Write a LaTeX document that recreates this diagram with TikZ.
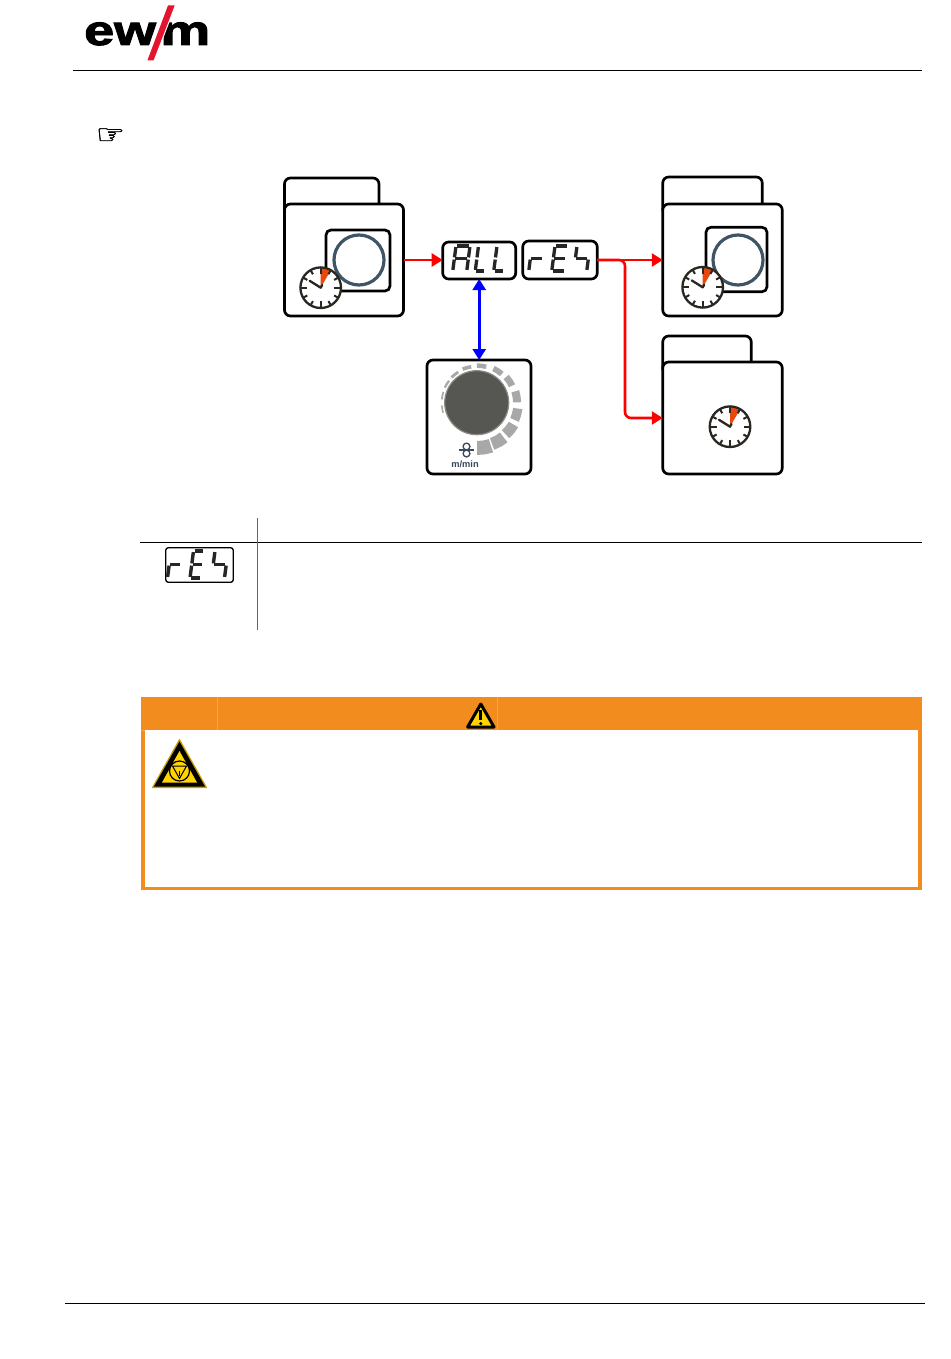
\documentclass[tikz,border=0pt]{standalone}
\usepackage{fontspec}
\setmainfont{Liberation Sans}
\newfontfamily\symfont[FakeBold=1.2]{DejaVu Sans}
\newfontfamily\logofont[FakeBold=2.2]{Liberation Sans Bold}
\usetikzlibrary{arrows.meta}
\definecolor{ringcol}{HTML}{3F5565}
\definecolor{clockor}{HTML}{E8480C}
\definecolor{clockbk}{HTML}{2A2622}
\definecolor{warnor}{HTML}{F28C1E}
\definecolor{warnseam}{HTML}{F5A552}
\definecolor{warnyel}{HTML}{FFD400}
\definecolor{warngold}{HTML}{C9A000}
\definecolor{logored}{HTML}{E3142D}
\definecolor{dialgray}{HTML}{A8A8A8}
\definecolor{slatecol}{HTML}{3A4A5A}
\definecolor{knobedge}{HTML}{8C8C84}
\pgfdeclareradialshading{knobshade}{\pgfpoint{-10bp}{-14bp}}{color(0bp)=(rgb:red,240;green,240;blue,234); color(25bp)=(rgb:red,222;green,222;blue,214); color(50bp)=(rgb:red,208;green,208;blue,200)}
\tikzset{
  roundbox/.style={draw=black,fill=white,line width=2.7pt,rounded corners=6pt,inner sep=0pt,outer sep=0pt},
  thinbox/.style={draw=black,fill=white,line width=1.3pt,rounded corners=2.5pt,inner sep=0pt,outer sep=0pt},
  ringmark/.style={draw=ringcol,line width=3.2pt},
  redarrow/.style={draw=red,line width=2.6pt,-{Triangle[length=11pt,width=13pt]}},
  bluearrow/.style={draw=blue,line width=2.6pt,{Triangle[length=11pt,width=13pt]}-{Triangle[length=11pt,width=13pt]}},
  segline/.style={line width=#1,draw=black!85,line cap=butt,shorten >=1.1pt,shorten <=1.1pt},
  rule/.style={draw=black,line width=1pt},
  seam/.style={draw=warnseam,line width=0.4pt},
}
% clock icon
\newcommand{\clockicon}[2]{%
  \begin{scope}[shift={(#1,#2)}]
    \fill[white] (0,0) circle[radius=20pt];
    \fill[clockor] (0,0) -- (90:19.5pt) arc[start angle=90,end angle=60,radius=19.5pt] -- cycle;
    \foreach \a in {0,90,180,270}
      \draw[clockbk,line width=2pt] (\a:13.5pt) -- (\a:20pt);
    \foreach \a in {30,60,120,150,210,240,300,330}
      \draw[clockbk,line width=2pt] (\a:15.5pt) -- (\a:20pt);
    \draw[clockbk,line width=2.3pt] (0,0) circle[radius=20.3pt];
    \draw[clockbk,line width=2.3pt,line cap=round,line join=round] (148:13pt) -- (0,0) -- (60:3pt);
  \end{scope}}
% seven-segment digit: x, y (top left), width, height, line width, list of segments
\newcommand{\sevseg}[6]{%
  \begin{scope}[shift={(#1,#2)},xslant=0.13]
    \coordinate (tl) at (0,0);
    \coordinate (tr) at (#3,0);
    \coordinate (ml) at (0,#4/2);
    \coordinate (mr) at (#3,#4/2);
    \coordinate (bl) at (0,#4);
    \coordinate (br) at (#3,#4);
    \foreach \p/\q in #6 \draw[segline=#5] (\p) -- (\q);
  \end{scope}}
\def\glyphA{tl/tr,tl/ml,tr/mr,ml/mr,ml/bl,mr/br}
\def\glyphL{tl/ml,ml/bl,bl/br}
\def\glyphr{ml/mr,ml/bl}
\def\glyphE{tl/tr,tl/ml,ml/mr,ml/bl,bl/br}
\def\glyphF{tl/ml,ml/mr,mr/br}
\begin{document}
\begin{tikzpicture}[x=1pt,y=-1pt]
\useasboundingbox (0,0) rectangle (950,1359);
\fill[white] (0,0) rectangle (950,1359);

% logo
\node[anchor=base west,inner sep=0pt,font=\logofont\fontsize{42}{42}\selectfont,xscale=1.28,text=black] (logoew) at (84,45) {ew};
\node[anchor=base west,inner sep=0pt,font=\logofont\fontsize{42}{42}\selectfont,xscale=1.34,text=black] (logom) at (160,45) {m};
\fill[logored,draw=white,line width=1pt] (167.5,5) -- (175.5,5) -- (154,61) -- (146.5,61) -- cycle;

% rules
\coordinate (hl) at (73,71); \coordinate (hr) at (922,71);
\draw[rule] (hl) -- (hr);
\coordinate (fl) at (65,1303); \coordinate (fr) at (925,1303);
\draw[rule] (fl) -- (fr);

% hand
\node[inner sep=0pt,xscale=1.2,font=\symfont\fontsize{27}{27}\selectfont] (hand) at (110.5,136) {☞};

% left folder
\node[roundbox,minimum width=94.5pt,minimum height=37pt] (ltab) at (331.75,196.5) {};
\node[roundbox,minimum width=119pt,minimum height=112pt] (lfront) at (344,260) {};
\node[roundbox,minimum width=64pt,minimum height=61pt,rounded corners=5pt] (linner) at (358,260.5) {};
\node[circle,ringmark,minimum size=50pt,inner sep=0pt] (lring) at (359,260) {};
\clockicon{320.7}{287.7}

% displays
\node[roundbox,minimum width=73pt,minimum height=37pt] (all) at (479.2,260.5) {};
\node[roundbox,minimum width=74.5pt,minimum height=38pt] (rey) at (560,260) {};
\sevseg{456}{246}{14}{25}{3.3pt}{\glyphA}
\sevseg{478.5}{246}{10}{25}{3.3pt}{\glyphL}
\sevseg{497}{246}{10}{25}{3.3pt}{\glyphL}
\sevseg{532}{246}{13}{25}{3.3pt}{\glyphr}
\sevseg{555}{246}{13}{25}{3.3pt}{\glyphE}
\sevseg{577}{246}{13}{25}{3.3pt}{\glyphF}

% right top folder
\node[roundbox,minimum width=99.5pt,minimum height=38pt] (rttab) at (712.5,196) {};
\node[roundbox,minimum width=119.5pt,minimum height=112pt] (rt) at (722.5,260) {};
\node[roundbox,minimum width=61pt,minimum height=64.5pt,rounded corners=5pt] (rtinner) at (736.5,259.5) {};
\node[circle,ringmark,minimum size=50pt,inner sep=0pt] (rtring) at (738,260) {};
\clockicon{702.7}{287.3}

% right bottom folder
\node[roundbox,minimum width=88.5pt,minimum height=38pt] (rbtab) at (707,355) {};
\node[roundbox,minimum width=119.5pt,minimum height=112pt] (rb) at (722.5,418) {};
\clockicon{730}{426.7}

% knob box
\node[roundbox,minimum width=104pt,minimum height=114pt] (knobbox) at (479,417) {};
\foreach \a [count=\i from 0] in {190,168,148,128,106,83,57,34,9,-16,-39,-61,-81} {
  \pgfmathsetmacro{\tk}{1.5+12.5*(\i/12)^1.6}
  \pgfmathsetmacro{\rin}{34.5+3.5*(\i/12)^2}
  \pgfmathsetmacro{\rout}{\rin+\tk}
  \pgfmathsetmacro{\hw}{6+3*\i/12}
  \fill[dialgray,shift={(477,403)}]
    (\a-\hw:\rin pt) -- (\a:\rin pt) -- (\a+\hw:\rin pt)
    -- (\a+\hw:\rout pt) -- (\a:\rout pt) -- (\a-\hw:\rout pt) -- cycle;
}
\shade[shading=knobshade,draw=knobedge,line width=1.2pt] (476.7,402.7) circle[radius=32pt];
\draw[slatecol,line width=1.3pt] (466.5,446.5) circle[radius=3.4pt] (466.5,453.5) circle[radius=3.4pt];
\draw[slatecol,line width=1.3pt] (458.5,450) -- (473.5,450);
\node[inner sep=0pt,text=slatecol,font=\bfseries\fontsize{9.3}{9.3}\selectfont] (mmin) at (465,464.3) {m/min};

% connectors
\draw[redarrow] (lfront.east) -- (lfront.east -| all.west);
\draw[redarrow] (rey.east) -- (rey.east -| rt.west);
\coordinate (branch) at (625,260);
\draw[draw=red,line width=2.6pt,rounded corners=6pt,-{Triangle[length=11pt,width=13pt]}] (rey.east) -- (branch) -- (branch |- rb.west) -- (rb.west);
\draw[bluearrow] (all.south) -- (all.south |- knobbox.north);

% table
\coordinate (tl1) at (140,542.5); \coordinate (tl2) at (922,542.5);
\draw[rule] (tl1) -- (tl2);
\coordinate (tv1) at (257.5,518); \coordinate (tv2) at (257.5,630);
\draw[draw=black!60,line width=1.2pt] (tv1) -- (tv2);
\node[thinbox,minimum width=67.5pt,minimum height=34.5pt] (rey2) at (199.5,565) {};
\sevseg{171}{551}{12}{27}{3.4pt}{\glyphr}
\sevseg{193.5}{551}{11}{27}{3.4pt}{\glyphE}
\sevseg{215}{551}{13}{27}{3.4pt}{\glyphF}

% warning box
\draw[warnor,line width=3.6pt] (142.8,715) rectangle (920.2,888.5);
\fill[warnor] (141,697) rectangle (922,730);
\draw[seam] (217,697) -- (217,730);
\draw[seam] (497,697) -- (497,730);
\draw[seam] (141,730) -- (145,730);

% small triangle in the bar
\fill[warnyel,draw=black,line width=3pt,line join=round] (480.8,704) -- (494,727) -- (467.6,727) -- cycle;
\draw[black,line width=3pt] (480.8,709.5) -- (480.8,720);
\fill[black] (480.8,723.6) circle[radius=1.8pt];

% big triangle
\fill[warngold,draw=warngold,line width=1pt,line join=round] (179.5,739.5) -- (206.5,787.5) -- (152.5,787.5) -- cycle;
\fill[black] (179.5,741.5) -- (205,786.5) -- (154,786.5) -- cycle;
\fill[warnyel] (179.5,751) -- (197,782.5) -- (162,782.5) -- cycle;
\draw[black,line width=1.2pt] (179.5,771) circle[radius=10pt];
\draw[black,line width=1pt,line join=round] (172.5,766) -- (186.5,766) -- (179.5,778.5) -- cycle;
\draw[black,line width=0.8pt] (179.5,771) -- (179.5,776);
\end{tikzpicture}
\end{document}
